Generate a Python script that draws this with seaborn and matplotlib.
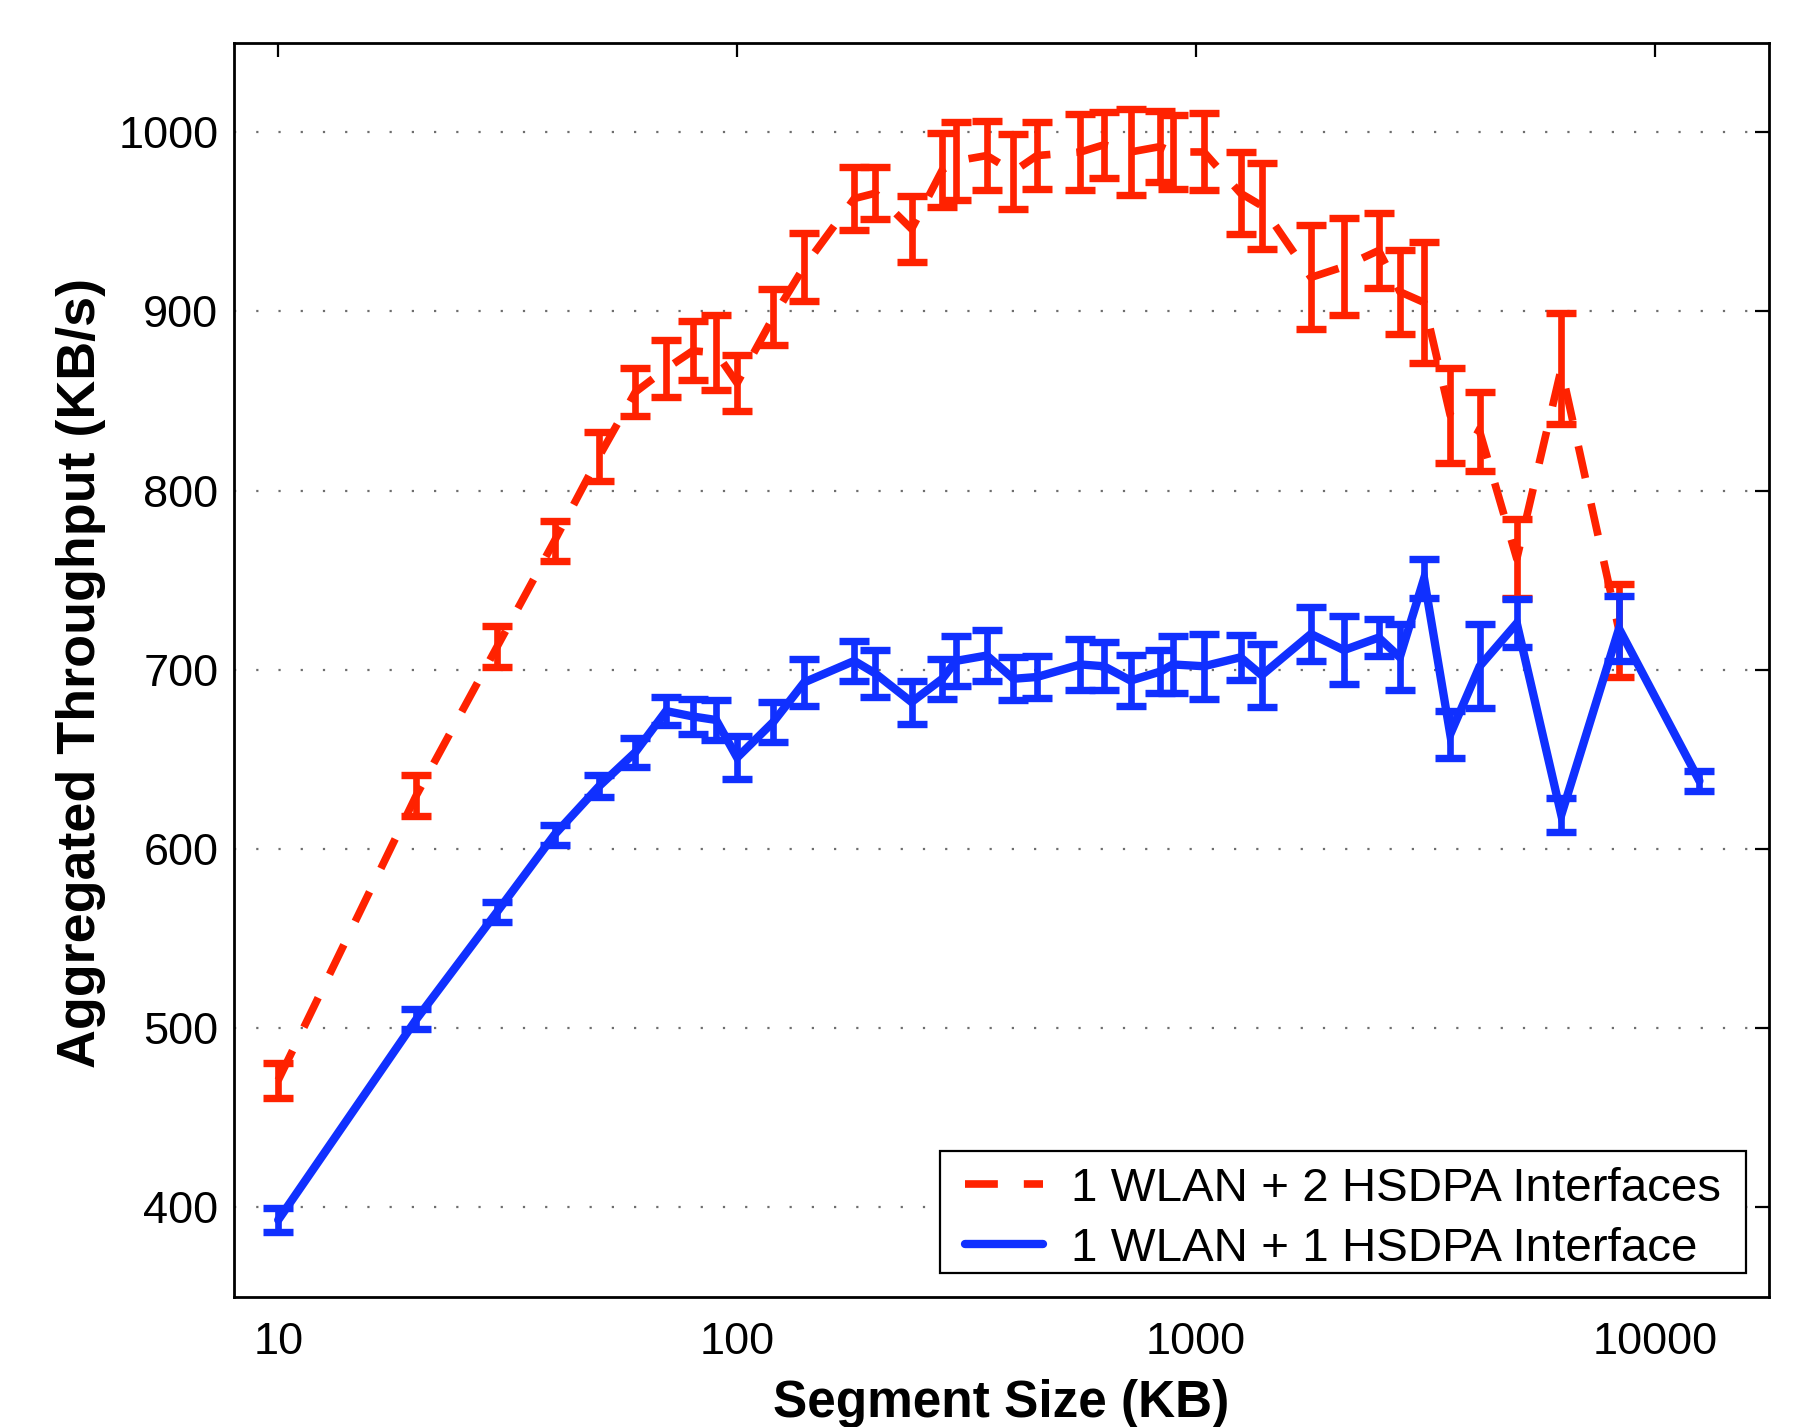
import numpy as np
import pandas as pd
import matplotlib
matplotlib.use("Agg")
import matplotlib.pyplot as plt
import seaborn as sns
from matplotlib.patches import Rectangle
from matplotlib.ticker import FixedLocator, FixedFormatter, NullLocator

# ---------------- data ----------------
segment_sizes = [10, 20, 30, 40, 50, 60, 70, 80, 90, 100, 120, 140, 180, 200, 240,
                 280, 300, 350, 400, 450, 560, 630, 720, 835, 890, 1040, 1250, 1390,
                 1780, 2100, 2500, 2780, 3140, 3580, 4150, 5000, 6250, 8350, 12500]

two_hsdpa_sizes = segment_sizes[:-1]
two_hsdpa_mean = [471, 630, 713, 772, 819, 855, 868, 878, 877, 860, 897, 925, 963, 966, 946,
                  979, 984, 987, 978, 987, 989, 993, 989, 992, 989, 989, 966, 959,
                  919, 925, 934, 911, 905, 842, 833, 762, 868, 722]
two_hsdpa_err = [9.7, 11.5, 11.5, 11, 13.5, 13.5, 16, 16.5, 21, 15.5, 15.5, 19, 17.5, 14.5, 18.5,
                 20.5, 22, 19.5, 21, 18.5, 21, 18.5, 24, 20, 20.5, 21.5, 23, 24,
                 29, 27, 21, 23.5, 33.5, 26.5, 22, 22, 31, 26]

one_hsdpa_sizes = segment_sizes
one_hsdpa_mean = [393, 505, 565, 608, 635, 654, 677, 674, 672, 651, 671, 693, 705, 698, 682,
                  695, 705, 708, 695, 696, 703, 702, 694, 699, 703, 702, 707, 697,
                  720, 711, 718, 707, 751, 664, 702, 726, 619, 723, 638]
one_hsdpa_err = [6.5, 5.6, 5.6, 5.6, 6.2, 8, 8, 10, 11, 12, 11, 13, 11, 13, 12,
                 11, 14, 14, 12, 11.5, 14, 13.5, 14, 12, 16, 18, 12.5, 17.5,
                 15, 19, 10.5, 18.5, 11, 13, 23.5, 13.5, 9.5, 18, 5.5]

series_labels = ["1 WLAN + 2 HSDPA Interfaces", "1 WLAN + 1 HSDPA Interface"]
x_ticks = [10, 100, 1000, 10000]
x_tick_labels = ["10", "100", "1000", "10000"]
y_ticks = [400, 500, 600, 700, 800, 900, 1000]
y_tick_labels = ["400", "500", "600", "700", "800", "900", "1000"]
x_label = "Segment Size (KB)"
y_label = "Aggregated Throughput (KB/s)"

RED = "#ff2200"
BLUE = "#1030ff"

# ---------------- style ----------------
sns.set_theme(style="white")
plt.rcParams["font.family"] = ["Liberation Sans", "DejaVu Sans"]
plt.rcParams["text.color"] = "black"

fig = plt.figure(figsize=(18.05, 14.27), dpi=100)
ax = fig.add_axes([0.1295, 0.0911, 0.8506, 0.8790])
ax.set_facecolor("white")

df_two = pd.DataFrame({"size": two_hsdpa_sizes, "tp": two_hsdpa_mean})
df_one = pd.DataFrame({"size": one_hsdpa_sizes, "tp": one_hsdpa_mean})

# red (2 HSDPA): error bars + dashed line
ax.errorbar(two_hsdpa_sizes, two_hsdpa_mean, yerr=two_hsdpa_err, fmt="none",
            ecolor=RED, elinewidth=4.8, capsize=10.5, capthick=5.3, zorder=2)
sns.lineplot(data=df_two, x="size", y="tp", ax=ax, color=RED, linewidth=5.5,
             linestyle=(0, (4.3, 3.4)), dash_capstyle="butt", estimator=None,
             sort=False, label=series_labels[0], zorder=2.1)

# blue (1 HSDPA): error bars + solid line
ax.errorbar(one_hsdpa_sizes, one_hsdpa_mean, yerr=one_hsdpa_err, fmt="none",
            ecolor=BLUE, elinewidth=4.8, capsize=10.5, capthick=5.3, zorder=3)
sns.lineplot(data=df_one, x="size", y="tp", ax=ax, color=BLUE, linewidth=6,
             solid_joinstyle="miter", estimator=None, sort=False,
             label=series_labels[1], zorder=3.1)

ax.set_xscale("log")
ax.set_xlim(8.0, 17730)
ax.set_ylim(350, 1050)

ax.xaxis.set_major_locator(FixedLocator(x_ticks))
ax.xaxis.set_major_formatter(FixedFormatter(x_tick_labels))
ax.xaxis.set_minor_locator(NullLocator())
ax.yaxis.set_major_locator(FixedLocator(y_ticks))
ax.yaxis.set_major_formatter(FixedFormatter(y_tick_labels))
ax.yaxis.set_minor_locator(NullLocator())

ax.tick_params(axis="both", which="major", direction="in", length=10, width=1.6,
               color="black", top=True, right=True, labelsize=32.5, labelcolor="black")
ax.tick_params(axis="x", pad=18)
ax.tick_params(axis="y", pad=11)

ax.yaxis.grid(True, color="#6e6e6e", linestyle=(0, (1, 9)), linewidth=1.6)
ax.xaxis.grid(False)
ax.set_axisbelow(True)

for s in ax.spines.values():
    s.set_color("black")
    s.set_linewidth(2.0)
    s.set_visible(True)

ax.set_xlabel(x_label, fontsize=37, fontweight="bold", color="black")
ax.set_ylabel(y_label, fontsize=38.8, fontweight="bold", color="black")
ax.xaxis.set_label_coords(0.5, -0.0654)
ax.yaxis.set_label_coords(-0.083, 0.4976)

# legend box (axes coords) and legend content centred inside it
box_x0, box_y0, box_x1, box_y1 = 0.4600, 0.0191, 0.9850, 0.1164
ax.add_patch(Rectangle((box_x0, box_y0), box_x1 - box_x0, box_y1 - box_y0,
                       transform=ax.transAxes, facecolor="white", edgecolor="black",
                       linewidth=1.6, zorder=5))
leg = ax.legend(loc="center",
                bbox_to_anchor=(box_x0, box_y0 - 0.0055, box_x1 - box_x0, box_y1 - box_y0),
                bbox_transform=ax.transAxes, fontsize=34.2, frameon=False,
                borderaxespad=0, borderpad=0, handlelength=1.65, handletextpad=0.6,
                labelspacing=0.33, labelcolor="black")
leg.set_zorder(6)

fig.savefig("out.png", dpi=100, facecolor="white")
